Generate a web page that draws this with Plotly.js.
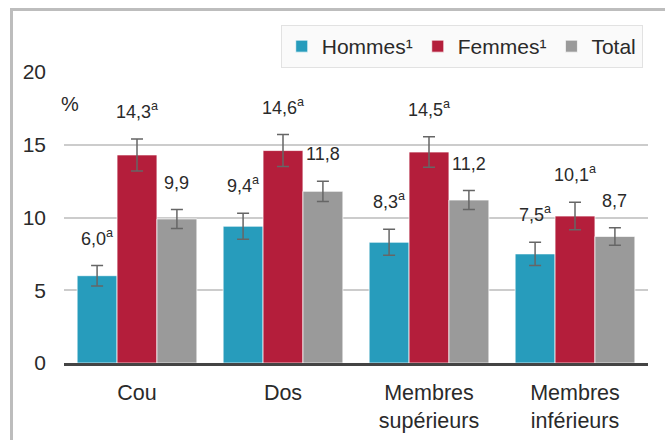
<!DOCTYPE html>
<html>
<head>
<meta charset="utf-8">
<script src="https://cdn.plot.ly/plotly-3.0.1.min.js"></script>
<style>html,body{margin:0;padding:0;background:#fff;}#chart{width:665px;height:440px;}</style>
</head>
<body>
<div id="chart"></div>
<script>
var categories = ['Cou', 'Dos', 'Membres<br>supérieurs', 'Membres<br>inférieurs'];
var seriesNames = ['Hommes¹', 'Femmes¹', 'Total'];
var hommes = [6.0, 9.4, 8.3, 7.5];
var femmes = [14.3, 14.6, 14.5, 10.1];
var total = [9.9, 11.8, 11.2, 8.7];
var hommesErr = [0.7, 0.9, 0.9, 0.8];
var femmesErr = [1.1, 1.1, 1.05, 0.95];
var totalErr = [0.65, 0.7, 0.65, 0.6];
var hommesLabels = ['6,0<sup>a</sup>', '9,4<sup>a</sup>', '8,3<sup>a</sup>', '7,5<sup>a</sup>'];
var femmesLabels = ['14,3<sup>a</sup>', '14,6<sup>a</sup>', '14,5<sup>a</sup>', '10,1<sup>a</sup>'];
var totalLabels = ['9,9', '11,8', '11,2', '8,7'];
var yTicks = [0, 5, 10, 15, 20];

var colors = ['#279cbc', '#b41e3b', '#9a9a9a'];
var values = [hommes, femmes, total];
var errs = [hommesErr, femmesErr, totalErr];
var labels = [hommesLabels, femmesLabels, totalLabels];
var font = 'Liberation Sans, Arial, sans-serif';
var textColor = '#2a2a2a';

var traces = values.map(function (v, k) {
  return {
    type: 'bar', name: seriesNames[k], x: categories, y: v,
    marker: {color: colors[k], line: {color: 'rgba(255,255,255,0.7)', width: 1}},
    error_y: {type: 'data', array: errs[k], visible: true, color: '#666', thickness: 1.5, width: 6},
    hoverinfo: 'skip'
  };
});

var annotations = [];
var bw = 146 * 0.82 / 3;
values.forEach(function (v, k) {
  v.forEach(function (val, i) {
    annotations.push({
      x: categories[i], y: val + errs[k][i], xref: 'x', yref: 'y',
      xshift: (k - 1) * bw, yshift: 15, yanchor: 'bottom', xanchor: 'center',
      text: labels[k][i], showarrow: false,
      font: {family: font, size: 18, color: textColor}
    });
  });
});
annotations.push({
  x: 0.0103, y: 0.89, xref: 'paper', yref: 'paper', text: '%', showarrow: false,
  xanchor: 'center', yanchor: 'middle', font: {family: font, size: 20, color: textColor}
});

var layout = {
  width: 665, height: 440,
  margin: {l: 64, r: 17, t: 72, b: 77},
  paper_bgcolor: '#fff', plot_bgcolor: '#fff',
  font: {family: font, size: 21, color: textColor},
  barmode: 'group', bargap: 0.18, bargroupgap: 0,
  showlegend: true,
  legend: {
    orientation: 'h', x: 0.991, xanchor: 'right', y: 1.1615, yanchor: 'top',
    bgcolor: '#fafafa', bordercolor: '#e2e2e2', borderwidth: 1,
    font: {family: font, size: 21, color: textColor},
    itemclick: false, traceorder: 'normal'
  },
  xaxis: {
    type: 'category', showgrid: false, zeroline: false,
    showline: true, linecolor: '#444', linewidth: 3,
    ticks: '', ticklabelstandoff: 8, tickfont: {family: font, size: 21.5, color: textColor},
    fixedrange: true
  },
  yaxis: {
    range: [0, 20], tickvals: yTicks, ticktext: yTicks.map(String),
    showgrid: true, gridcolor: '#cccccc', gridwidth: 2,
    zeroline: false, showline: false, ticks: '', ticklabelstandoff: 17,
    tickfont: {family: font, size: 21, color: textColor},
    fixedrange: true
  },
  annotations: annotations,
  shapes: [
    {type: 'line', xref: 'paper', yref: 'paper', layer: 'above',
     x0: (11.5 - 64) / 584, x1: (700 - 64) / 584, y0: (363 - 9.5) / 291, y1: (363 - 9.5) / 291,
     line: {color: '#bdbdbd', width: 3}},
    {type: 'line', xref: 'paper', yref: 'paper', layer: 'above',
     x0: (11.5 - 64) / 584, x1: (11.5 - 64) / 584, y0: (363 - 8) / 291, y1: (363 - 480) / 291,
     line: {color: '#bdbdbd', width: 3}}
  ]
};

Plotly.newPlot('chart', traces, layout, {displayModeBar: false, staticPlot: true});
</script>
</body>
</html>
